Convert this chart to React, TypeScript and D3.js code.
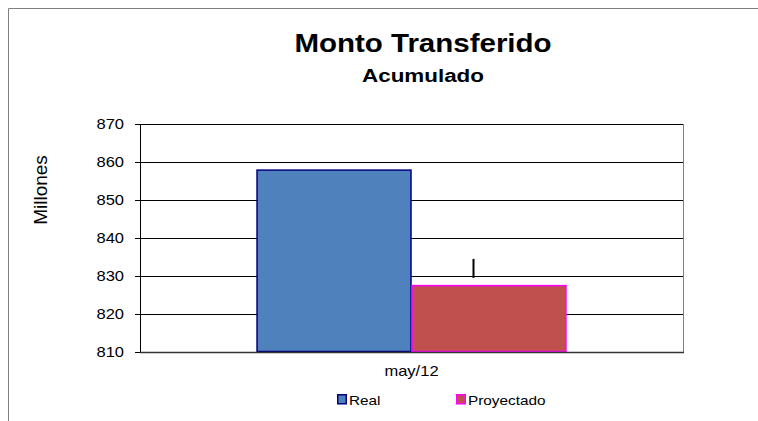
import * as d3 from "d3";

const categories = ["may/12"];
const seriesNames = ["Real", "Proyectado"];
const realValues = [858];
const projectedValues = [827.6];
const projectedError = [[829.5, 834.5]];
const yTicks = [810, 820, 830, 840, 850, 860, 870];

const FILL = ["#4F81BD", "#C0504D"];
const STROKE = ["#000080", "#FF00FF"];
const FONT = "Arial, 'Liberation Sans', sans-serif";
// the source picture is stretched sideways, so its text is too
const SX = 1.18;

function WideText({
  x,
  y,
  size,
  anchor = "start",
  bold = false,
  children,
}: {
  x: number;
  y: number;
  size: number;
  anchor?: "start" | "middle" | "end";
  bold?: boolean;
  children: React.ReactNode;
}) {
  return (
    <text
      transform={`translate(${x},${y}) scale(${SX},1)`}
      textAnchor={anchor}
      fontSize={size}
      fontWeight={bold ? "bold" : "normal"}
    >
      {children}
    </text>
  );
}

export default function App() {
  const W = 758;
  const H = 421;
  const plot = { left: 140, right: 683, top: 124, bottom: 352 };

  const y = d3.scaleLinear().domain([810, 870]).range([plot.bottom, plot.top]);
  const x = d3
    .scaleBand()
    .domain(categories)
    .range([plot.left, plot.right])
    .paddingInner(0)
    .paddingOuter(0.376);
  const xs = d3.scaleBand().domain(seriesNames).range([0, x.bandwidth()]);

  const values = [realValues, projectedValues];

  return (
    <svg
      width={W}
      height={H}
      style={{ position: "absolute", left: 0, top: 0, background: "#fff" }}
      fontFamily={FONT}
    >
      {/* outer frame, clipped at right/bottom */}
      <line x1={8.5} y1={8.5} x2={W} y2={8.5} stroke="#7f7f7f" />
      <line x1={8.5} y1={8.5} x2={8.5} y2={H} stroke="#7f7f7f" />

      <WideText x={423} y={52} size={25} anchor="middle" bold>
        Monto Transferido
      </WideText>
      <WideText x={423} y={82} size={19} anchor="middle" bold>
        Acumulado
      </WideText>

      {/* gridlines */}
      {yTicks.map((t) => (
        <g key={t}>
          <line
            x1={plot.left - 5}
            x2={plot.right}
            y1={Math.round(y(t)) + 0.5}
            y2={Math.round(y(t)) + 0.5}
            stroke="#000"
            strokeWidth={1}
          />
          <WideText x={plot.left - 16} y={y(t) + 5} size={14} anchor="end">
            {t}
          </WideText>
        </g>
      ))}
      <line
        x1={plot.right + 0.5}
        x2={plot.right + 0.5}
        y1={plot.top}
        y2={plot.bottom}
        stroke="#808080"
      />
      <line
        x1={plot.left + 0.5}
        x2={plot.left + 0.5}
        y1={plot.top}
        y2={plot.bottom + 1}
        stroke="#000"
      />

      {/* bars */}
      {categories.map((c, ci) =>
        seriesNames.map((s, si) => {
          const x0 = (x(c) ?? 0) + (xs(s) ?? 0);
          const v = values[si][ci];
          return (
            <rect
              key={s + c}
              x={x0 + 0.5}
              y={y(v) + 0.5}
              width={xs.bandwidth() - 1}
              height={plot.bottom - y(v) - 1}
              fill={FILL[si]}
              stroke={STROKE[si]}
              strokeWidth={1.5}
            />
          );
        })
      )}

      {/* error bar on projected */}
      {categories.map((c, ci) => {
        const cx = (x(c) ?? 0) + (xs("Proyectado") ?? 0) + xs.bandwidth() * 0.4;
        return (
          <line
            key={"err" + c}
            x1={Math.round(cx) + 0.5}
            x2={Math.round(cx) + 0.5}
            y1={y(projectedError[ci][1])}
            y2={y(projectedError[ci][0])}
            stroke="#000"
            strokeWidth={2}
          />
        );
      })}

      {/* x axis */}
      <line
        x1={plot.left}
        x2={plot.right + 1}
        y1={plot.bottom + 0.5}
        y2={plot.bottom + 0.5}
        stroke="#333"
        strokeWidth={1.5}
      />
      {categories.map((c) => (
        <WideText
          key={c}
          x={(x(c) ?? 0) + x.bandwidth() / 2}
          y={376}
          size={14}
          anchor="middle"
        >
          {c}
        </WideText>
      ))}

      {/* legend */}
      {seriesNames.map((s, i) => {
        const lx = [337, 456][i];
        return (
          <g key={s}>
            <rect
              x={lx + 0.75}
              y={394.75}
              width={8.5}
              height={9}
              fill={FILL[i]}
              stroke={STROKE[i]}
              strokeWidth={1.5}
            />
            <WideText x={lx + 12} y={405} size={13}>
              {s}
            </WideText>
          </g>
        );
      })}

      <text
        transform={`translate(47, 190) rotate(-90)`}
        textAnchor="middle"
        fontSize={19}
      >
        Millones
      </text>
    </svg>
  );
}
